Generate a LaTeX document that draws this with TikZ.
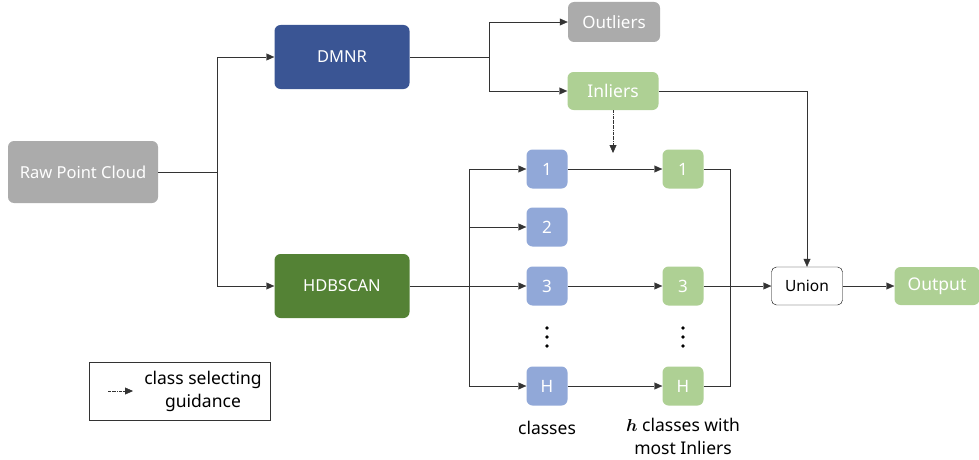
\documentclass[tikz,border=0pt]{standalone}
\usepackage{fontspec}
\setmainfont{Noto Sans}
\usetikzlibrary{arrows.meta}

\definecolor{rawgray}{HTML}{ABABAB}
\definecolor{dmnrblue}{HTML}{3A5594}
\definecolor{hdbgreen}{HTML}{548235}
\definecolor{lightgreen}{HTML}{AED094}
\definecolor{lightblue}{HTML}{91A8D8}

\begin{document}
\begin{tikzpicture}[x=1pt,y=-1pt,
  box/.style={rounded corners=6pt,inner sep=0pt,text=white,font=\fontsize{16}{19}\selectfont},
  bigbox/.style={box,minimum width=135pt,minimum height=64pt,font=\fontsize{16.5}{19}\selectfont},
  smallbox/.style={box,minimum width=41pt,minimum height=39pt,font=\fontsize{17}{20}\selectfont},
  label/.style={font=\fontsize{17.5}{23}\selectfont,align=center,inner sep=0pt},
  vdotsbox/.style={minimum width=8pt,minimum height=26pt,inner sep=0pt,
    path picture={\fill[black] (path picture bounding box.center) circle (1.8pt);
      \fill[black] ([yshift=9pt]path picture bounding box.center) circle (1.8pt);
      \fill[black] ([yshift=-9pt]path picture bounding box.center) circle (1.8pt);}},
  arr/.style={draw=black!80,-{Triangle[length=8pt,width=7pt]}},
  link/.style={draw=black!80},
  guide/.style={draw=black!80,densely dash dot,-{Triangle[length=8pt,width=7pt]}}]

\useasboundingbox (0,0) rectangle (979,460);

\node[box,fill=rawgray,minimum width=150pt,minimum height=62pt,font=\fontsize{16.5}{19}\selectfont] (raw) at (83,172) {Raw Point Cloud};
\node[bigbox,fill=dmnrblue] (dmnr) at (342,57) {DMNR};
\node[bigbox,fill=hdbgreen] (hdb) at (342,286) {HDBSCAN};

\node[box,fill=rawgray,minimum width=92pt,minimum height=40pt,font=\fontsize{17}{20}\selectfont] (out) at (614,22) {Outliers};
\node[box,fill=lightgreen,minimum width=91pt,minimum height=38pt,font=\fontsize{17.5}{20}\selectfont] (inl) at (613,91) {Inliers};

\node[smallbox,fill=lightblue] (b1) at (547,169) {1};
\node[smallbox,fill=lightblue] (b2) at (547,227) {2};
\node[smallbox,fill=lightblue] (b3) at (547,286) {3};
\node[vdotsbox] (bdots) at (547,337) {};
\node[smallbox,fill=lightblue] (bH) at (547,386) {H};

\node[smallbox,fill=lightgreen] (g1) at (683,169) {1};
\node[smallbox,fill=lightgreen] (g3) at (683,286) {3};
\node[vdotsbox] (gdots) at (683,337) {};
\node[smallbox,fill=lightgreen] (gH) at (683,386) {H};

\node[draw=black,rounded corners=5pt,fill=white,minimum width=71pt,minimum height=38pt,inner sep=0pt,font=\fontsize{15.5}{18}\selectfont] (union) at (807,286) {Union};
\node[box,fill=lightgreen,minimum width=85pt,minimum height=38pt,font=\fontsize{17.5}{20}\selectfont] (output) at (937,286) {Output};

\node[label] (lblclasses) at (547,428) {classes};
\node[label] (lblbest) at (683,436) {{\boldmath$h$} classes with\\most Inliers};

% legend
\node[draw=black!80,minimum width=181pt,minimum height=58pt,inner sep=0pt] (key) at (180,391) {};
\node[label] (keytext) at (203,391) {class selecting\\guidance};
\coordinate (keyfrom) at (108,391);
\coordinate (keyto) at (133,391);
\draw[guide] (keyfrom) -- (keyto);

% branch points
\coordinate (split1) at (217,172);
\coordinate (split2) at (489,57);
\coordinate (split3) at (469,286);
\coordinate (merge) at (730,286);
\coordinate (pick) at (613,153);

\draw[link] (raw) -- (split1);
\draw[arr] (split1) |- (dmnr);
\draw[arr] (split1) |- (hdb);

\draw[link] (dmnr) -- (split2);
\draw[arr] (split2) |- (out);
\draw[arr] (split2) |- (inl);
\draw[arr] (inl) -| (union);
\draw[guide] (inl) -- (pick);

\draw[link] (hdb) -- (split3);
\draw[arr] (split3) |- (b1);
\draw[arr] (split3) |- (b2);
\draw[arr] (split3) -- (b3);
\draw[arr] (split3) |- (bH);

\draw[arr] (b1) -- (g1);
\draw[arr] (b3) -- (g3);
\draw[arr] (bH) -- (gH);

\draw[link] (g1) -| (merge);
\draw[link] (gH) -| (merge);
\draw[arr] (g3) -- (union);
\draw[arr] (union) -- (output);
\end{tikzpicture}
\end{document}
